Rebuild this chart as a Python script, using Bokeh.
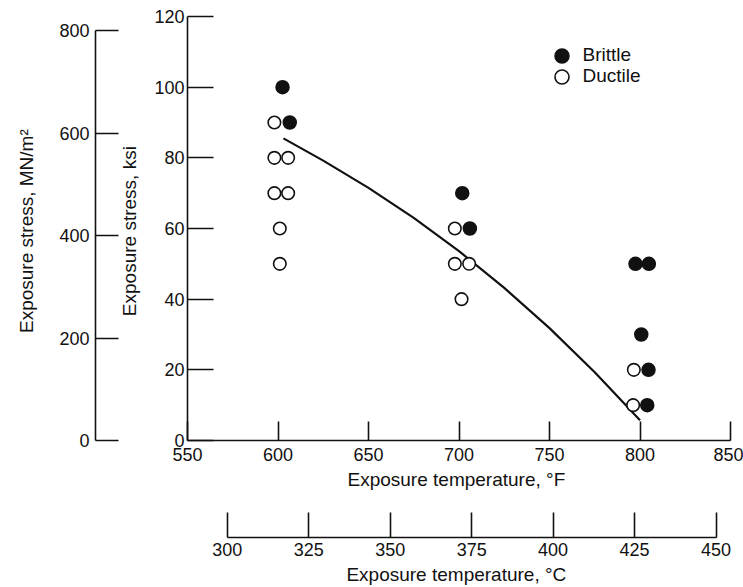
from bokeh.plotting import figure
from bokeh.models import Range1d, LinearAxis, FixedTicker, Legend, LegendItem
from bokeh.embed import file_html
from bokeh.resources import INLINE

# Exposure results: temperature (deg F) and stress (ksi)
brittle_temp_f = [602.5, 606.5, 701.8, 706.0, 797.5, 804.9, 800.7, 804.7, 804.0]
brittle_stress_ksi = [100, 90, 70, 60, 50, 50, 30, 20, 10]

ductile_temp_f = [598.0, 598.0, 605.6, 598.0, 605.6, 601.0, 601.0,
                  697.7, 697.7, 705.6, 701.4, 796.6, 796.2]
ductile_stress_ksi = [90, 80, 80, 70, 70, 60, 50, 60, 50, 50, 40, 20, 10]

# Brittle/ductile boundary curve
boundary_temp_f = [603, 625, 650, 675, 700, 725, 750, 775, 800]
boundary_stress_ksi = [85.5, 79.2, 71.5, 63.0, 53.6, 43.2, 31.8, 19.3, 5.7]

temp_f_ticks = [550, 600, 650, 700, 750, 800, 850]
temp_c_ticks = [300, 325, 350, 375, 400, 425, 450]
stress_ksi_ticks = [0, 20, 40, 60, 80, 100, 120]
stress_mn_ticks = [0, 200, 400, 600, 800]

KSI_TO_MN = 6.895

TICK_FONT = "Liberation Sans, Arial, sans-serif"
TITLE_FONT = "Liberation Sans, Arial, sans-serif"
INK = "#111111"

f_lo, f_hi = temp_f_ticks[0], temp_f_ticks[-1]
s_hi = stress_ksi_ticks[-1]

p = figure(width=743, height=587,
           x_range=Range1d(f_lo, f_hi), y_range=Range1d(0, s_hi),
           output_backend="svg", toolbar_location=None,
           min_border_left=187, min_border_right=13,
           min_border_top=16, min_border_bottom=146)
p.outline_line_color = None
p.xgrid.visible = False
p.ygrid.visible = False
p.background_fill_color = "white"
p.border_fill_color = "white"

p.extra_y_ranges = {"mn": Range1d(0, s_hi * KSI_TO_MN)}
p.extra_x_ranges = {"c": Range1d((f_lo - 32) / 1.8, (f_hi - 32) / 1.8)}


def style_axis(ax, tick_in, label_standoff, title_standoff):
    ax.axis_line_color = INK
    ax.axis_line_width = 1.6
    ax.major_tick_line_color = INK
    ax.major_tick_line_width = 1.6
    ax.major_tick_in = tick_in
    ax.major_tick_out = 0
    ax.minor_tick_line_color = None
    ax.major_label_text_font = TICK_FONT
    ax.major_label_text_font_size = "18px"
    ax.major_label_text_color = INK
    ax.major_label_standoff = label_standoff
    ax.axis_label_text_font = TITLE_FONT
    ax.axis_label_text_font_size = "19px"
    ax.axis_label_text_font_style = "normal"
    ax.axis_label_text_color = INK
    ax.axis_label_standoff = title_standoff


def gap_axis(extent, **kw):
    # blank axis whose (empty) label only opens space between stacked axes
    return LinearAxis(ticker=FixedTicker(ticks=[]), axis_line_color=None,
                      major_tick_line_color=None, minor_tick_line_color=None,
                      major_tick_in=0, major_tick_out=0,
                      major_label_standoff=0,
                      axis_label="\u00a0", axis_label_text_font_size="1px",
                      axis_label_text_color=INK,
                      axis_label_standoff=extent - 1, **kw)


# main axes (deg F, ksi)
xa = p.xaxis[0]
xa.ticker = FixedTicker(ticks=temp_f_ticks)
xa.axis_label = "Exposure temperature,  \u00b0F"
style_axis(xa, 19, 7, 5)

ya = p.yaxis[0]
ya.ticker = FixedTicker(ticks=stress_ksi_ticks)
ya.axis_label = "Exposure stress,  ksi"
style_axis(ya, 26, 3, 11)

# secondary stress scale in MN/m^2
p.add_layout(gap_axis(18), "left")
mn_axis = LinearAxis(y_range_name="mn", ticker=FixedTicker(ticks=stress_mn_ticks),
                     bounds=(stress_mn_ticks[0], stress_mn_ticks[-1]),
                     axis_label="Exposure stress,  MN/m\u00b2")
style_axis(mn_axis, 23, 6, 19)
p.add_layout(mn_axis, "left")

# secondary temperature scale in deg C
p.add_layout(gap_axis(42), "below")
c_axis = LinearAxis(x_range_name="c", ticker=FixedTicker(ticks=temp_c_ticks),
                    bounds=(temp_c_ticks[0], temp_c_ticks[-1]),
                    axis_label="Exposure temperature,  \u00b0C")
style_axis(c_axis, 25, 5, 5)
p.add_layout(c_axis, "below")

# boundary curve and data points
p.line(boundary_temp_f, boundary_stress_ksi, line_color=INK, line_width=2.2,
       line_join="round")

r_brittle = p.scatter(brittle_temp_f, brittle_stress_ksi, marker="circle", size=13,
                      fill_color=INK, line_color=INK, line_width=1.5)
r_ductile = p.scatter(ductile_temp_f, ductile_stress_ksi, marker="circle", size=12.5,
                      fill_color="white", line_color=INK, line_width=1.6)

# key: one single-entry legend per symbol, stacked one row apart
for renderer, label, vy in [(r_brittle, "Brittle", 367.5), (r_ductile, "Ductile", 346.5)]:
    key = Legend(items=[LegendItem(label=label, renderers=[renderer])],
                 location=(356.5, vy),
                 glyph_width=35, glyph_height=35,
                 padding=0, margin=0, label_standoff=4,
                 border_line_color=None, background_fill_alpha=0,
                 label_text_font=TITLE_FONT, label_text_font_size="19px",
                 label_text_color=INK)
    p.add_layout(key)

open("out.html", "w").write(file_html(p, INLINE))
